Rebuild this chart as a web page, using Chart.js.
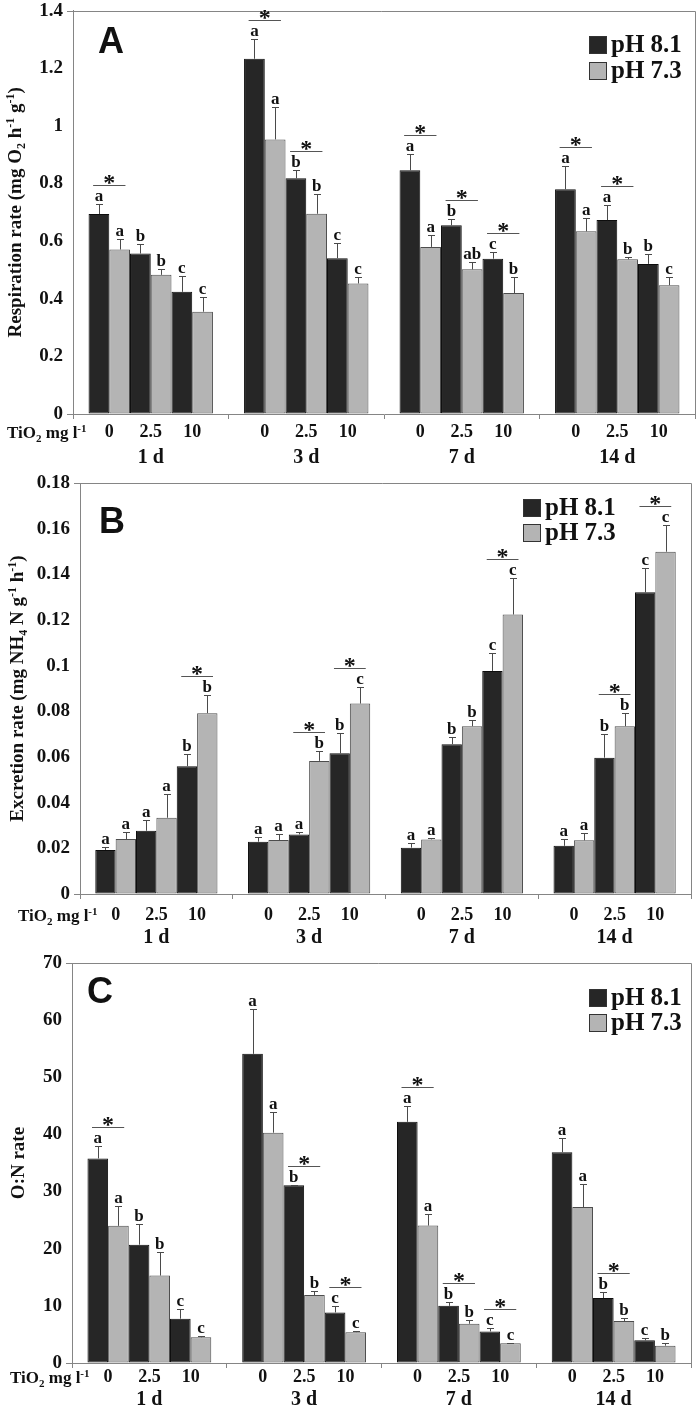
<!DOCTYPE html>
<html>
<head>
<meta charset="utf-8">
<script src="https://cdn.jsdelivr.net/npm/chart.js@4"></script>
<style>
  body { margin: 0; background: #fff; }
  canvas { position: absolute; left: 0; }
</style>
</head>
<body>
<canvas id="chartA" width="700" height="470" style="top:0"></canvas>
<canvas id="chartB" width="700" height="480" style="top:470px"></canvas>
<canvas id="chartC" width="700" height="457" style="top:950px"></canvas>
<script>
const days = ['1 d', '3 d', '7 d', '14 d'];
const concs = ['0', '2.5', '10'];
const phLabels = ['pH 8.1', 'pH 7.3'];
const concTitle = [['TiO', 0], ['2', -1], [' mg l', 0], ['-1', 1]];

// every row is one day, columns are TiO2 0 / 2.5 / 10 mg l-1
// A: respiration
const respHigh = [[0.694, 0.557, 0.424], [1.233, 0.818, 0.541], [0.846, 0.655, 0.539], [0.780, 0.673, 0.521]];
const respLow  = [[0.571, 0.483, 0.355], [0.953, 0.695, 0.453], [0.580, 0.502, 0.420], [0.634, 0.537, 0.447]];
const respHighErr = [[0.035, 0.032, 0.055], [0.069, 0.028, 0.053], [0.058, 0.023, 0.024], [0.080, 0.051, 0.035]];
const respLowErr  = [[0.035, 0.022, 0.052], [0.111, 0.069, 0.023], [0.043, 0.026, 0.055], [0.046, 0.008, 0.027]];
const respHighLet = [['a', 'b', 'c'], ['a', 'b', 'c'], ['a', 'b', 'c'], ['a', 'a', 'b']];
const respLowLet  = [['a', 'b', 'c'], ['a', 'b', 'c'], ['a', 'ab', 'b'], ['a', 'b', 'c']];
const respSig = [[0, 0], [1, 0], [1, 1], [2, 0], [2, 1], [2, 2], [3, 0], [3, 1]];
const respTicks = ['0', '0.2', '0.4', '0.6', '0.8', '1', '1.2', '1.4'];
const respTitle = [['Respiration rate (mg O', 0], ['2', -1], [' h', 0], ['-1', 1], [' g', 0], ['-1', 1], [')', 0]];

// B: excretion
const excHigh = [[0.0193, 0.0277, 0.0560], [0.0229, 0.0261, 0.0616], [0.0203, 0.0656, 0.0977], [0.0211, 0.0597, 0.1321]];
const excLow  = [[0.0241, 0.0334, 0.0792], [0.0236, 0.0583, 0.0834], [0.0239, 0.0735, 0.1224], [0.0235, 0.0735, 0.1499]];
const excHighErr = [[0.0014, 0.0048, 0.0051], [0.0019, 0.0009, 0.0091], [0.0020, 0.0030, 0.0079], [0.0028, 0.0103, 0.0107]];
const excLowErr  = [[0.0032, 0.0106, 0.0079], [0.0027, 0.0043, 0.0073], [0.0005, 0.0026, 0.0160], [0.0030, 0.0058, 0.0119]];
const excHighLet = [['a', 'a', 'b'], ['a', 'a', 'b'], ['a', 'b', 'c'], ['a', 'b', 'c']];
const excLowLet  = [['a', 'a', 'b'], ['a', 'b', 'c'], ['a', 'b', 'c'], ['a', 'b', 'c']];
const excSig = [[0, 2], [1, 1], [1, 2], [2, 2], [3, 1], [3, 2]];
const excTicks = ['0', '0.02', '0.04', '0.06', '0.08', '0.1', '0.12', '0.14', '0.16', '0.18'];
const excTitle = [['Excretion rate (mg NH', 0], ['4', -1], [' N g', 0], ['-1', 1], [' h', 0], ['-1', 1], [')', 0]];

// C: O:N ratio
const onHigh = [[35.8, 20.7, 7.75], [54.1, 31.1, 8.85], [42.2, 10.0, 5.53], [36.9, 11.36, 3.96]];
const onLow  = [[24.0, 15.3, 4.5], [40.3, 11.9, 5.4], [24.05, 6.87, 3.44], [27.3, 7.34, 3.03]];
const onHighErr = [[2.1, 3.6, 1.65], [7.8, 0.1, 1.15], [2.8, 0.66, 0.57], [2.5, 1.14, 0.41]];
const onLowErr  = [[3.4, 4.1, 0.3], [3.7, 0.7, 0.25], [2.1, 0.58, 0.11], [4.0, 0.52, 0.47]];
const onHighLet = [['a', 'b', 'c'], ['a', 'b', 'c'], ['a', 'b', 'c'], ['a', 'b', 'c']];
const onLowLet  = [['a', 'b', 'c'], ['a', 'b', 'c'], ['a', 'b', 'c'], ['a', 'b', 'b']];
const onSig = [[0, 0], [1, 1], [1, 2], [2, 0], [2, 1], [2, 2], [3, 1]];
const onTicks = ['0', '10', '20', '30', '40', '50', '60', '70'];
const onTitle = [['O:N rate', 0]];

const serif = '"Liberation Serif", "Times New Roman", serif';
const axisGrey = '#858585';
const fills = ['#262626', '#b4b4b4'];
const edges = ['#0d0d0d', '#4d4d4d'];

// text with sub/superscript pieces
function drawRich(ctx, parts, x, y, size, align) {
    const small = Math.round(size * 0.65);
    let total = 0;
    parts.forEach(([t, m]) => {
        ctx.font = 'bold ' + (m ? small : size) + 'px ' + serif;
        total += ctx.measureText(t).width;
    });
    let cx = align === 'left' ? x : x - total / 2;
    ctx.textAlign = 'left';
    ctx.textBaseline = 'alphabetic';
    parts.forEach(([t, m]) => {
        ctx.font = 'bold ' + (m ? small : size) + 'px ' + serif;
        const dy = m === 1 ? -size * 0.38 : m === -1 ? size * 0.22 : 0;
        ctx.fillText(t, cx, y + dy);
        cx += ctx.measureText(t).width;
    });
}

function extras(p) {
    return {
        id: 'extras',
        afterDatasetsDraw(chart) {
            const ctx = chart.ctx, ys = chart.scales.y, area = chart.chartArea;
            const vals = [p.high, p.low], errs = [p.highErr, p.lowErr], lets = [p.highLet, p.lowLet];
            ctx.save();
            // top and right frame
            ctx.strokeStyle = axisGrey;
            ctx.lineWidth = 1;
            ctx.beginPath();
            ctx.moveTo(area.left - 6, Math.round(area.top) + 0.5);
            ctx.lineTo(Math.round(area.right) + 0.5, Math.round(area.top) + 0.5);
            ctx.lineTo(Math.round(area.right) + 0.5, area.bottom);
            ctx.stroke();

            const tops = days.map(() => concs.map(() => [0, 0]));
            const xs = days.map(() => concs.map(() => [0, 0]));
            chart.data.datasets.forEach((ds, di) => {
                const k = Math.floor(di / 2), ph = di % 2;
                chart.getDatasetMeta(di).data.forEach((bar, i) => {
                    const top = ys.getPixelForValue(vals[ph][i][k] + errs[ph][i][k]);
                    const bx = Math.round(bar.x) + 0.5, ty = Math.round(top) + 0.5;
                    tops[i][k][ph] = top;
                    xs[i][k][ph] = bar.x;
                    ctx.strokeStyle = '#4a4a4a';
                    ctx.beginPath();
                    ctx.moveTo(bx, bar.y);
                    ctx.lineTo(bx, ty);
                    ctx.moveTo(bx - 3.5, ty);
                    ctx.lineTo(bx + 3.5, ty);
                    ctx.stroke();
                    ctx.fillStyle = '#111';
                    ctx.font = 'bold 17px ' + serif;
                    ctx.textAlign = 'center';
                    ctx.textBaseline = 'alphabetic';
                    ctx.fillText(lets[ph][i][k], bar.x, top - 3);
                });
            });

            // significance marks between the two pH levels
            p.sig.forEach(([i, k]) => {
                const top = Math.min(tops[i][k][0], tops[i][k][1]);
                const cx = (xs[i][k][0] + xs[i][k][1]) / 2;
                const half = (xs[i][k][1] - xs[i][k][0]) * 0.78;
                const ly = Math.round(top - 19) + 0.5;
                ctx.strokeStyle = '#555';
                ctx.beginPath();
                ctx.moveTo(cx - half, ly);
                ctx.lineTo(cx + half, ly);
                ctx.stroke();
                ctx.fillStyle = '#111';
                ctx.font = 'bold 24px ' + serif;
                ctx.textAlign = 'center';
                ctx.fillText('*', cx, ly + 4);
            });

            // concentration labels under each bar pair
            ctx.fillStyle = '#111';
            days.forEach((d, i) => {
                concs.forEach((c, k) => {
                    ctx.font = 'bold 18px ' + serif;
                    ctx.textAlign = 'center';
                    ctx.textBaseline = 'middle';
                    ctx.fillText(c, (xs[i][k][0] + xs[i][k][1]) / 2, area.bottom + p.concOffset);
                });
            });
            drawRich(ctx, concTitle, p.concTitleX, area.bottom + p.concOffset + 6, 17, 'left');

            // y axis title
            ctx.save();
            ctx.translate(p.titleX, (area.top + area.bottom) / 2);
            ctx.rotate(-Math.PI / 2);
            drawRich(ctx, p.title, 0, 6, 19, 'center');
            ctx.restore();

            // panel letter
            ctx.font = 'bold 36px "Liberation Sans", Arial, sans-serif';
            ctx.textAlign = 'center';
            ctx.textBaseline = 'middle';
            ctx.fillText(p.letter, p.letterPos[0], p.letterPos[1]);

            // legend
            phLabels.forEach((lab, ph) => {
                const ry = p.legend[1 + ph];
                ctx.fillStyle = fills[ph];
                ctx.fillRect(p.legend[0], ry - 9, 18, 18);
                ctx.strokeStyle = '#333';
                ctx.strokeRect(p.legend[0] + 0.5, ry - 8.5, 17, 17);
                ctx.fillStyle = '#111';
                ctx.font = 'bold 25px ' + serif;
                ctx.textAlign = 'left';
                ctx.textBaseline = 'middle';
                ctx.fillText(lab, p.legend[0] + 22, ry + 1);
            });
            ctx.restore();
        }
    };
}

function makePanel(id, p) {
    const canvas = document.getElementById(id);
    const H = canvas.height;
    const datasets = [];
    concs.forEach((c, k) => {
        [p.high, p.low].forEach((series, ph) => {
            datasets.push({
                label: phLabels[ph],
                data: series.map(row => row[k]),
                backgroundColor: fills[ph],
                borderColor: edges[ph],
                borderWidth: 1,
                borderSkipped: false
            });
        });
    });
    return new Chart(canvas, {
        type: 'bar',
        data: { labels: days, datasets: datasets },
        options: {
            responsive: false,
            animation: false,
            layout: { padding: { top: p.area[1], right: 700 - p.area[2], left: 0, bottom: 0 } },
            datasets: { bar: { categoryPercentage: 0.8, barPercentage: 1 } },
            plugins: { legend: { display: false }, tooltip: { enabled: false } },
            scales: {
                x: {
                    grid: { drawOnChartArea: false, offset: true, tickLength: 5, color: axisGrey },
                    border: { color: axisGrey },
                    ticks: {
                        color: '#111',
                        maxRotation: 0,
                        autoSkip: false,
                        padding: p.dayOffset - 5 - 10,
                        font: { family: serif, size: 20, weight: 'bold', lineHeight: 1 }
                    },
                    afterFit: s => { s.height = H - p.area[3]; }
                },
                y: {
                    min: 0,
                    max: p.yMax,
                    grid: {
                        drawOnChartArea: false,
                        tickLength: 6,
                        color: axisGrey,
                        tickColor: c => (c.index === 0 ? axisGrey : 'rgba(0,0,0,0)')
                    },
                    border: { color: axisGrey },
                    ticks: {
                        stepSize: p.yStep,
                        color: '#111',
                        padding: 4,
                        callback: (v, i) => p.ticks[i],
                        font: { family: serif, size: 19, weight: 'bold', lineHeight: 0.7 }
                    },
                    afterFit: s => { s.width = p.area[0]; }
                }
            }
        },
        plugins: [extras(p)]
    });
}

makePanel('chartA', {
    high: respHigh, low: respLow, highErr: respHighErr, lowErr: respLowErr,
    highLet: respHighLet, lowLet: respLowLet, sig: respSig, ticks: respTicks, title: respTitle,
    yMax: 1.4, yStep: 0.2, area: [73, 7, 695, 414],
    dayOffset: 44, concOffset: 18, concTitleX: 7, titleX: 15,
    letter: 'A', letterPos: [111, 43], legend: [589, 45, 71]
});

makePanel('chartB', {
    high: excHigh, low: excLow, highErr: excHighErr, lowErr: excLowErr,
    highLet: excHighLet, lowLet: excLowLet, sig: excSig, ticks: excTicks, title: excTitle,
    yMax: 0.18, yStep: 0.02, area: [80, 13, 691, 424],
    dayOffset: 44, concOffset: 21, concTitleX: 18, titleX: 17,
    letter: 'B', letterPos: [112, 53], legend: [523, 38, 63]
});

makePanel('chartC', {
    high: onHigh, low: onLow, highErr: onHighErr, lowErr: onLowErr,
    highLet: onHighLet, lowLet: onLowLet, sig: onSig, ticks: onTicks, title: onTitle,
    yMax: 70, yStep: 10, area: [72, 13, 691, 413],
    dayOffset: 37, concOffset: 14, concTitleX: 10, titleX: 18,
    letter: 'C', letterPos: [100, 43], legend: [589, 48, 73]
});
</script>
</body>
</html>
